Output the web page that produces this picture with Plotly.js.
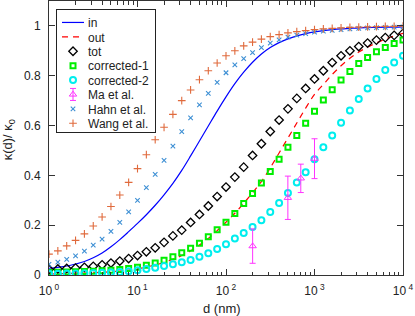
<!DOCTYPE html>
<html><head><meta charset="utf-8">
<script src="https://cdn.plot.ly/plotly-3.0.1.min.js"></script>
<style>html,body{margin:0;padding:0;background:#fff}#c{width:415px;height:316px}</style>
</head><body><div id="c"></div>
<script>
// log10(d) grid: 0, 0.1, ..., 4.0
const logD = [0,0.1,0.2,0.3,0.4,0.5,0.6,0.7,0.8,0.9,1.0,1.1,1.2,1.3,1.4,1.5,1.6,1.7,1.8,1.9,2.0,2.1,2.2,2.3,2.4,2.5,2.6,2.7,2.8,2.9,3.0,3.1,3.2,3.3,3.4,3.5,3.6,3.7,3.8,3.9,4.0];
const kIn = [0.027,0.031,0.036,0.044,0.054,0.069,0.088,0.113,0.142,0.174,0.207,0.242,0.280,0.322,0.368,0.420,0.478,0.538,0.598,0.658,0.715,0.768,0.814,0.854,0.887,0.913,0.933,0.948,0.960,0.969,0.976,0.981,0.985,0.988,0.990,0.992,0.993,0.994,0.995,0.995,0.996];
const kOut = [0.004,0.005,0.006,0.007,0.008,0.009,0.011,0.013,0.016,0.020,0.025,0.032,0.040,0.050,0.063,0.078,0.097,0.120,0.147,0.178,0.212,0.248,0.288,0.330,0.375,0.430,0.490,0.550,0.610,0.670,0.725,0.765,0.805,0.840,0.870,0.895,0.915,0.932,0.947,0.960,0.970];
const kTot = [0.022,0.024,0.026,0.028,0.031,0.035,0.041,0.048,0.056,0.066,0.078,0.093,0.109,0.131,0.157,0.180,0.211,0.243,0.277,0.315,0.353,0.393,0.433,0.480,0.527,0.576,0.622,0.667,0.709,0.749,0.787,0.820,0.853,0.880,0.900,0.917,0.931,0.943,0.953,0.962,0.970];
const kCorr1 = [0.010,0.011,0.012,0.013,0.014,0.015,0.017,0.019,0.022,0.026,0.031,0.039,0.048,0.059,0.073,0.089,0.107,0.127,0.154,0.182,0.212,0.247,0.287,0.327,0.369,0.416,0.465,0.513,0.560,0.609,0.657,0.703,0.744,0.783,0.817,0.849,0.873,0.896,0.913,0.929,0.943];
const kCorr2 = [0.005,0.005,0.006,0.006,0.007,0.008,0.009,0.010,0.012,0.015,0.019,0.024,0.029,0.036,0.043,0.051,0.060,0.073,0.087,0.104,0.123,0.147,0.169,0.193,0.220,0.253,0.289,0.329,0.371,0.413,0.465,0.513,0.560,0.611,0.660,0.707,0.749,0.787,0.823,0.853,0.880];
const kHahn = [0.043,0.052,0.063,0.077,0.096,0.120,0.144,0.175,0.211,0.253,0.300,0.351,0.404,0.460,0.517,0.576,0.631,0.683,0.729,0.773,0.812,0.844,0.869,0.893,0.913,0.931,0.944,0.955,0.963,0.969,0.975,0.979,0.982,0.985,0.988,0.990,0.992,0.993,0.994,0.995,0.996];
const kWang = [0.084,0.097,0.117,0.139,0.165,0.197,0.233,0.275,0.321,0.372,0.427,0.483,0.543,0.593,0.645,0.700,0.743,0.784,0.820,0.851,0.880,0.900,0.920,0.935,0.947,0.957,0.965,0.972,0.977,0.981,0.985,0.988,0.990,0.992,0.994,0.995,0.996,0.997,0.998,0.998,0.999];
const maD = [200,500,700,1000];
const maK = [0.116,0.310,0.388,0.467];
const maErr = [0.069,0.087,0.057,0.080];
const xTickVals = [1,10,100,1000,10000];
const xTickText = ['10<sup> 0</sup>','10<sup> 1</sup>','10<sup> 2</sup>','10<sup> 3</sup>','10<sup> 4</sup>'];
const yTickVals = [0,0.2,0.4,0.6,0.8,1];
const yTickText = ['0','0.2','0.4','0.6','0.8','1'];
const xTitle = 'd (nm)';
const yTitle = 'κ(d)/ κ<sub>0</sub>';

const d = logD.map(v => Math.pow(10, v));
const minorVals = [];
for (let e = 0; e < 4; e++) for (let m = 2; m <= 9; m++) minorVals.push(m * Math.pow(10, e));

const traces = [
  {x: d, y: kIn, name: 'in', mode: 'lines', line: {color: '#0000ff', width: 1.2, shape: 'spline'}},
  {x: d, y: kOut, name: 'out', mode: 'lines', line: {color: '#ff0000', width: 1.2, dash: '6px,5px', shape: 'spline'}},
  {x: d, y: kTot, name: 'tot', mode: 'markers', marker: {symbol: 'diamond-open', size: 6.5, color: '#000', line: {width: 1.3}}},
  {x: d, y: kCorr1, name: 'corrected-1', mode: 'markers', marker: {symbol: 'square-open', size: 5, color: '#00ee00', line: {width: 2}}},
  {x: d, y: kCorr2, name: 'corrected-2', mode: 'markers', marker: {symbol: 'circle-open', size: 6, color: '#00eeee', line: {width: 2}}},
  {x: maD, y: maK, name: 'Ma et al.', mode: 'markers', marker: {symbol: 'triangle-up-open', size: 6.5, color: '#ff33ff', line: {width: 1}},
   error_y: {type: 'data', array: maErr, visible: true, color: '#ff33ff', thickness: 1, width: 3}},
  {x: d, y: kHahn, name: 'Hahn et al.', mode: 'markers', marker: {symbol: 'x-thin-open', size: 4.5, color: '#3d8fd4', line: {width: 1.1}}},
  {x: d, y: kWang, name: 'Wang et al.', mode: 'markers', marker: {symbol: 'cross-thin-open', size: 5.5, color: '#e06a3c', line: {width: 1.1}}}
];

const fontFam = 'Liberation Sans, Arial, sans-serif';
const axisCommon = {showgrid: false, zeroline: false, showline: true, linecolor: '#333', linewidth: 1, mirror: 'allticks',
  ticks: 'inside', tickcolor: '#333', tickfont: {family: fontFam, size: 12, color: '#222'}};

const layout = {
  width: 415, height: 316,
  margin: {l: 49, r: 11.5, t: 1, b: 41},
  paper_bgcolor: '#fff', plot_bgcolor: '#fff',
  showlegend: true,
  font: {family: fontFam, color: '#222'},
  xaxis: Object.assign({}, axisCommon, {type: 'log', range: [0, 4], tickvals: xTickVals, ticktext: xTickText, ticklen: 6,
    ticklabelstandoff: 5,
    minor: {tickvals: minorVals, ticks: 'inside', ticklen: 3.5, tickcolor: '#333'}}),
  yaxis: Object.assign({}, axisCommon, {range: [0, 1.1], tickvals: yTickVals, ticktext: yTickText, ticklen: 6,
    ticklabelstandoff: 5}),
  annotations: [
    {text: xTitle, xref: 'paper', yref: 'paper', x: 0.489, y: -0.124, xanchor: 'center', yanchor: 'middle',
     showarrow: false, font: {family: fontFam, size: 13, color: '#222'}},
    {text: yTitle, xref: 'paper', yref: 'paper', x: -0.112, y: 0.493, xanchor: 'center', yanchor: 'middle',
     textangle: -90, showarrow: false, font: {family: fontFam, size: 13, color: '#222'}}
  ],
  legend: {x: 0.0198, y: 0.971, xanchor: 'left', yanchor: 'top', bgcolor: '#fff', bordercolor: '#222', borderwidth: 1,
    font: {size: 12, color: '#222'}, itemwidth: 30, tracegroupgap: 0}
};

const gd = document.getElementById('c');
Plotly.newPlot(gd, traces, layout, {staticPlot: true, displayModeBar: false}).then(() => {
  // compact the legend rows to match the reference spacing
  const leg = gd.querySelector('.legend');
  if (!leg) return;
  const items = Array.from(leg.querySelectorAll('g.traces'));
  if (!items.length) return;
  const step = 14.4;
  const m = /translate\(\s*([-\d.]+)[ ,]+([-\d.]+)\s*\)/.exec(items[0].getAttribute('transform') || '');
  if (!m) return;
  const tx = +m[1], ty0 = +m[2] - 2;
  items.forEach((g, k) => {
    g.setAttribute('transform', 'translate(' + tx + ',' + (ty0 + k * step) + ')');
    const txt = g.querySelector('text.legendtext');
    if (txt) txt.setAttribute('x', (+txt.getAttribute('x') || 40) - 9);
    g.querySelectorAll('.legendlines path').forEach(p => p.setAttribute('d', 'M5,0h22'));
    g.querySelectorAll('.legendpoints path.scatterpts').forEach(p => p.setAttribute('transform', 'translate(16,0)'));
    if (k === 5) {
      const eb = document.createElementNS('http://www.w3.org/2000/svg', 'path');
      eb.setAttribute('d', 'M16,-6V6M13,-6H19M13,6H19');
      eb.setAttribute('stroke', '#ff33ff');
      eb.setAttribute('stroke-width', '1');
      eb.setAttribute('fill', 'none');
      g.appendChild(eb);
    }
  });
  const bg = leg.querySelector('rect.bg');
  if (bg) {
    bg.setAttribute('height', 2 * ty0 + 7 * step - 5);
    bg.setAttribute('width', (+bg.getAttribute('width')) - 9);
  }
});
</script></body></html>
